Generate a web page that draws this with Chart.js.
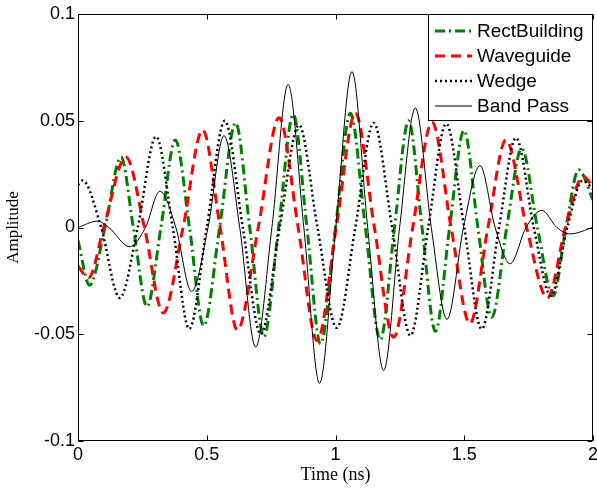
<!DOCTYPE html>
<html>
<head>
<meta charset="utf-8">
<script src="https://cdn.jsdelivr.net/npm/chart.js@4.4.1/dist/chart.umd.min.js"></script>
<style>
  html, body { margin: 0; padding: 0; background: #fff; }
  #wrap { width: 597px; height: 488px; }
</style>
</head>
<body>
<div id="wrap"><canvas id="chart" width="597" height="488"></canvas></div>
<script>
// ===== data (time in ns, amplitude) =====
const seriesLabels = ['RectBuilding', 'Waveguide', 'Wedge', 'Band Pass'];

const rectT = [0, 0.045, 0.105, 0.167, 0.215, 0.268, 0.322, 0.378, 0.433, 0.488, 0.550, 0.612, 0.667, 0.722, 0.779, 0.836, 0.889, 0.942, 1.000, 1.058, 1.116, 1.174, 1.229, 1.284, 1.336, 1.388, 1.443, 1.499, 1.553, 1.607, 1.665, 1.723, 1.784, 1.845, 1.895, 1.944, 2.0];
const rectA = [-0.006, -0.027, 0, 0.033, 0, -0.037, 0, 0.041, 0, -0.046, 0, 0.049, 0, -0.051, 0, 0.053, 0, -0.0545, 0, 0.0535, 0, -0.0526, 0, 0.050, 0, -0.0486, 0, 0.0454, 0, -0.042, 0, 0.037, 0, -0.032, 0, 0.027, 0.013];

const waveT = [0, 0.041, 0.100, 0.186, 0.258, 0.331, 0.408, 0.484, 0.552, 0.619, 0.700, 0.781, 0.855, 0.929, 1.003, 1.077, 1.151, 1.226, 1.300, 1.375, 1.449, 1.522, 1.592, 1.662, 1.742, 1.823, 1.893, 1.962, 2.0];
const waveA = [-0.018, -0.0236, 0, 0.033, 0, -0.040, 0, 0.0457, 0, -0.048, 0, 0.0514, 0, -0.053, 0, 0.0535, 0, -0.0514, 0, 0.0493, 0, -0.045, 0, 0.041, 0, -0.033, 0, 0.024, 0.019];

const wedgeT = [0, 0.018, 0.090, 0.162, 0.232, 0.303, 0.368, 0.432, 0.500, 0.570, 0.640, 0.710, 0.783, 0.858, 0.930, 1.005, 1.077, 1.148, 1.220, 1.291, 1.360, 1.430, 1.500, 1.568, 1.635, 1.701, 1.770, 1.836, 1.900, 1.960, 2.0];
const wedgeA = [0.020, 0.022, 0, -0.033, 0, 0.0426, 0, -0.0475, 0, 0.050, 0, -0.050, 0, 0.048, 0, -0.047, 0, 0.049, 0, -0.0506, 0, 0.0486, 0, -0.0475, 0, 0.042, 0, -0.032, 0, 0.022, 0.018];

const bandT = [0, 0.076, 0.120, 0.200, 0.262, 0.318, 0.380, 0.441, 0.505, 0.567, 0.628, 0.690, 0.753, 0.816, 0.877, 0.938, 1.001, 1.064, 1.125, 1.187, 1.249, 1.310, 1.372, 1.433, 1.497, 1.561, 1.620, 1.678, 1.740, 1.801, 1.860, 1.911, 2.0];
const bandA = [0, 0.003, 0, -0.009, 0, 0.017, 0, -0.030, 0, 0.043, 0, -0.056, 0, 0.067, 0, -0.073, 0, 0.073, 0, -0.067, 0, 0.056, 0, -0.043, 0, 0.029, 0, -0.017, 0, 0.008, 0, -0.003, 0];

const xTicks = [0, 0.5, 1, 1.5, 2];
const xTickLabels = ['0', '0.5', '1', '1.5', '2'];
const yTicks = [-0.1, -0.05, 0, 0.05, 0.1];
const yTickLabels = ['-0.1', '-0.05', '0', '0.05', '0.1'];

const sans = '"Liberation Sans", Arial, sans-serif';
const serif = '"Liberation Serif", "Times New Roman", serif';

const pts = (ts, as) => ts.map((t, i) => ({ x: t, y: as[i] }));

function series(i, ts, as, color, width, dash, order) {
    return {
        label: seriesLabels[i], data: pts(ts, as),
        borderColor: color, borderWidth: width, borderDash: dash, borderCapStyle: 'butt',
        fill: false, pointRadius: 0, cubicInterpolationMode: 'monotone', order
    };
}

// box round the plot, inward tick marks, and the legend in the top right corner
const frame = {
    id: 'frame',
    afterDraw(chart) {
        const { ctx, chartArea: a, scales: { x, y } } = chart;
        const L = Math.round(a.left) + 0.5, R = Math.round(a.right) - 0.5;
        const T = Math.round(a.top) + 0.5, B = Math.round(a.bottom) - 0.5;
        ctx.save();
        ctx.strokeStyle = '#000'; ctx.lineWidth = 1; ctx.setLineDash([]);
        ctx.strokeRect(L, T, R - L, B - T);
        ctx.beginPath();
        xTicks.forEach(v => {
            const px = Math.round(x.getPixelForValue(v)) + 0.5;
            ctx.moveTo(px, B); ctx.lineTo(px, B - 5);
            ctx.moveTo(px, T); ctx.lineTo(px, T + 5);
        });
        yTicks.forEach(v => {
            const py = Math.round(y.getPixelForValue(v)) + 0.5;
            ctx.moveTo(L, py); ctx.lineTo(L + 5, py);
            ctx.moveTo(R, py); ctx.lineTo(R - 5, py);
        });
        ctx.stroke();

        // legend
        const lx = 428.5, ly = T, lw = R - lx, lh = 106;
        ctx.fillStyle = '#fff';
        ctx.fillRect(lx, ly, lw, lh);
        ctx.strokeRect(lx, ly, lw, lh);
        ctx.font = '19px ' + sans;
        ctx.textBaseline = 'middle';
        chart.data.datasets.forEach((ds, i) => {
            const ry = 31 + i * 25;
            ctx.strokeStyle = ds.borderColor; ctx.lineWidth = ds.borderWidth;
            ctx.setLineDash(ds.borderDash); ctx.lineCap = 'butt';
            ctx.beginPath(); ctx.moveTo(435, ry); ctx.lineTo(472, ry); ctx.stroke();
            ctx.setLineDash([]);
            ctx.fillStyle = '#000';
            ctx.fillText(ds.label, 477, ry + 1);
        });
        ctx.restore();
    }
};

new Chart(document.getElementById('chart'), {
    type: 'line',
    data: {
        datasets: [
            series(0, rectT, rectA, '#008000', 3, [10, 4, 2, 4], 3),
            series(1, waveT, waveA, '#ff0000', 3, [10, 6], 2),
            series(2, wedgeT, wedgeA, '#000000', 2.5, [2, 3], 1),
            series(3, bandT, bandA, '#000000', 1, [], 0)
        ]
    },
    options: {
        responsive: false, animation: false, devicePixelRatio: 1,
        layout: { padding: { top: 14, right: 4, left: 0, bottom: 0 } },
        plugins: { legend: { display: false }, tooltip: { enabled: false } },
        scales: {
            x: {
                type: 'linear', min: 0, max: 2,
                afterBuildTicks: s => { s.ticks = xTicks.map(v => ({ value: v })); },
                afterFit: s => { s.height = 47; s.paddingLeft = 0; s.paddingRight = 0; },
                grid: { display: false, drawTicks: false }, border: { display: false },
                ticks: { color: '#000', font: { family: sans, size: 18 }, padding: 3, maxRotation: 0, autoSkip: false,
                    callback: (v, i) => xTickLabels[i] },
                title: { display: true, text: 'Time (ns)', color: '#000', font: { family: serif, size: 18 }, padding: { top: 0, bottom: 2 } }
            },
            y: {
                type: 'linear', min: -0.1, max: 0.1,
                afterBuildTicks: s => { s.ticks = yTicks.map(v => ({ value: v })); },
                afterFit: s => { s.width = 78; s.paddingTop = 0; s.paddingBottom = 0; },
                grid: { display: false, drawTicks: false }, border: { display: false },
                ticks: { color: '#000', font: { family: sans, size: 18 }, padding: 3, autoSkip: false,
                    callback: (v, i) => yTickLabels[i] },
                title: { display: true, text: 'Amplitude', color: '#000', font: { family: serif, size: 17 }, padding: { top: 3, bottom: 0 } }
            }
        }
    },
    plugins: [frame]
});
</script>
</body>
</html>
